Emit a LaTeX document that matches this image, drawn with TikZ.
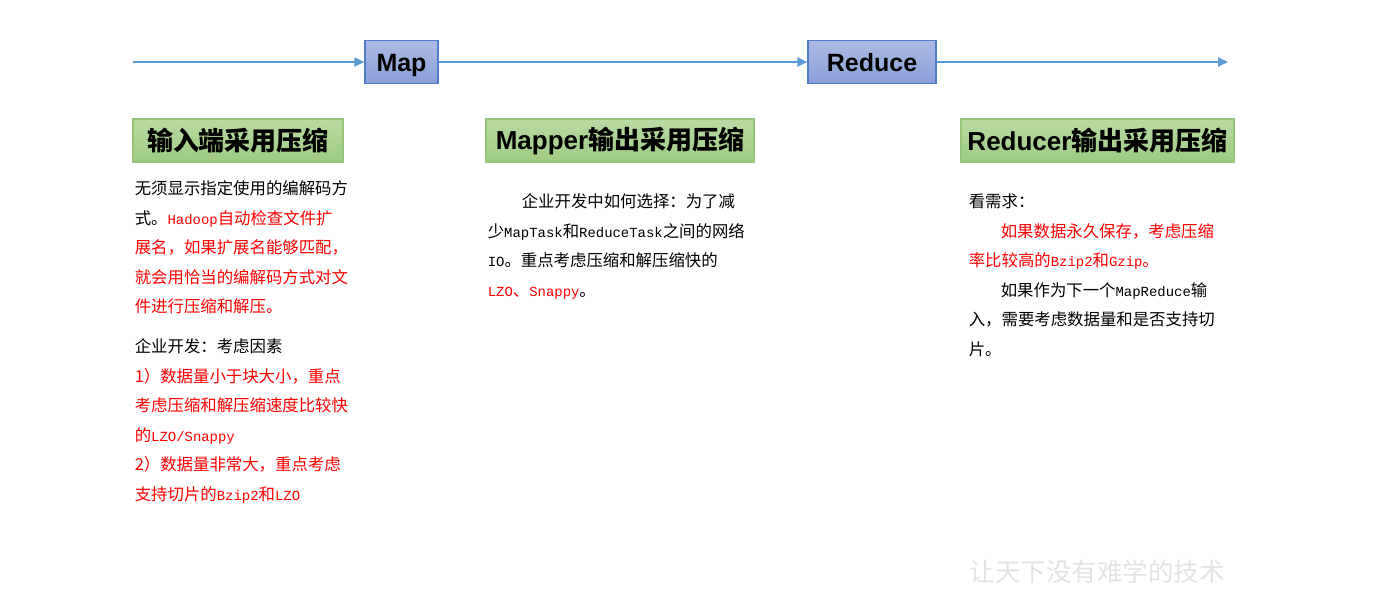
\documentclass[tikz,border=0pt]{standalone}
\usepackage{fontspec}
\setmainfont{Noto Sans CJK SC}
\newfontfamily\latsans{Liberation Sans}
\newfontfamily\latmono{Liberation Mono}[Scale=0.85]
\usetikzlibrary{arrows.meta, positioning}

\definecolor{flowline}{RGB}{91,155,213}
\definecolor{stagetop}{RGB}{172,187,226}
\definecolor{stagebot}{RGB}{136,160,216}
\definecolor{stageborder}{RGB}{78,124,200}
\definecolor{titletop}{RGB}{184,218,162}
\definecolor{titlebot}{RGB}{158,203,131}
\definecolor{titleborder}{RGB}{150,196,120}

\newcommand{\en}[1]{{\latmono #1}}
\newcommand{\redtxt}[1]{\textcolor{red}{#1}}

\begin{document}
\begin{tikzpicture}[
    x = 0.5pt, y = -0.5pt,
    stage/.style = {rectangle, draw=stageborder, line width=0.6pt, top color=stagetop, bottom color=stagebot, minimum width=#1, minimum height=21.5pt, inner sep=0pt, text height=9pt, text depth=0pt, font=\latsans\bfseries\fontsize{12.5}{14}\selectfont},
    headbox/.style = {rectangle, draw=titleborder, line width=0.6pt, top color=titletop, bottom color=titlebot, minimum width=#1, minimum height=21.5pt, inner sep=0pt, font=\bfseries\fontsize{13}{15}\selectfont},
    body/.style = {inner sep=0pt, align=left, font=\fontsize{8.2}{14.75}\selectfont},
    arrow/.style = {-{Triangle[length=5pt, width=4.5pt]}, draw=flowline, line width=1pt}
]
\useasboundingbox (0,0) rectangle (1378,602);

% Flow line
\coordinate (start) at (133,62);
\node[stage=36.5pt] (map) at (401.5,62) {Map};
\node[stage=64pt] (reduce) at (872,62) {Reduce};
\coordinate (finish) at (1228,62);

\draw[arrow] (start) -- (map);
\draw[arrow] (map) -- (reduce);
\draw[arrow] (reduce) -- (finish);

% Titles
\node[headbox=105pt] (inTitle) at (238,140.5) {输入端采用压缩};
\node[headbox=134pt] (mapTitle) at (620,140.5) {{\latsans Mapper}输出采用压缩};
\node[headbox=136.5pt] (redTitle) at (1097.5,140.5) {{\latsans Reducer}输出采用压缩};

% Notes
\node[body, below right=9pt and 1pt of inTitle.south west] (inText) {%
无须显示指定使用的编解码方\\
式。\redtxt{\en{Hadoop}自动检查文件扩}\\
\redtxt{展名，如果扩展名能够匹配，}\\
\redtxt{就会用恰当的编解码方式对文}\\
\redtxt{件进行压缩和解压。}\\[5.25pt]
企业开发：考虑因素\\
\redtxt{1）数据量小于块大小，重点}\\
\redtxt{考虑压缩和解压缩速度比较快}\\
\redtxt{的\en{LZO/Snappy}}\\
\redtxt{2）数据量非常大，重点考虑}\\
\redtxt{支持切片的\en{Bzip2}和\en{LZO}}};

\node[body, below right=15.5pt and 1pt of mapTitle.south west] (mapText) {%
\hspace*{17pt}企业开发中如何选择：为了减\\
少\en{MapTask}和\en{ReduceTask}之间的网络\\
\en{IO}。重点考虑压缩和解压缩快的\\
\redtxt{\en{LZO}、\en{Snappy}}。};

\node[body, below right=15.5pt and 4pt of redTitle.south west] (redText) {%
看需求：\\
\hspace*{16pt}\redtxt{如果数据永久保存，考虑压缩}\\
\redtxt{率比较高的\en{Bzip2}和\en{Gzip}。}\\
\hspace*{16pt}如果作为下一个\en{MapReduce}输\\
入，需要考虑数据量和是否支持切\\
片。};

% Watermark
\node[text=gray!22, font=\fontsize{12.75}{14}\selectfont] (slogan) at (1097,572) {让天下没有难学的技术};

\end{tikzpicture}
\end{document}
